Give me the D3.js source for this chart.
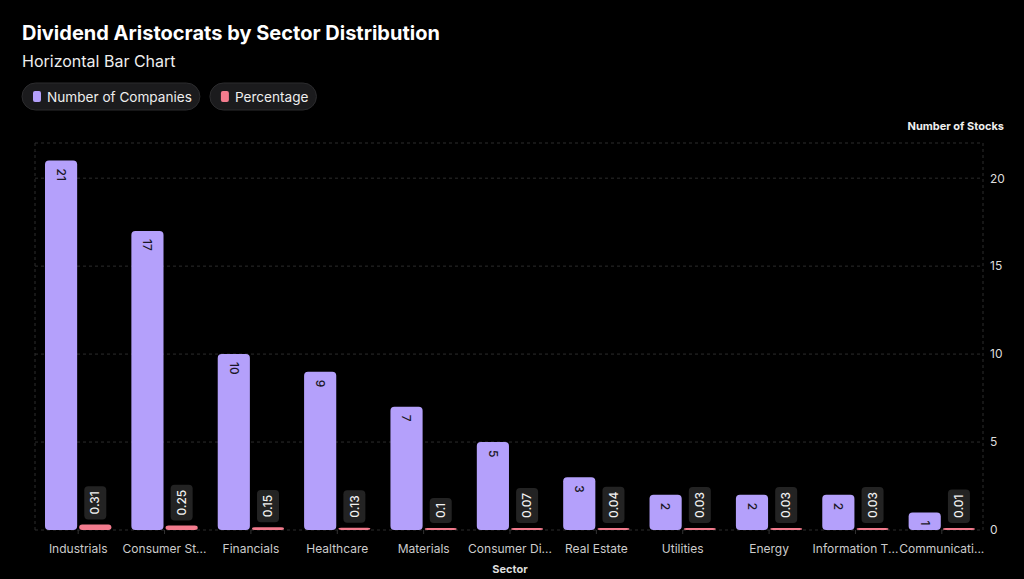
<!DOCTYPE html>
<html>
<head>
<meta charset="utf-8">
<script src="https://cdn.jsdelivr.net/npm/d3@7"></script>
<style>
  html, body { margin: 0; padding: 0; background: #000; }
  svg { display: block; font-family: Inter, "Noto Sans", sans-serif; }
</style>
</head>
<body>
<div id="chart"></div>
<script>
// data
var sectors = ["Industrials", "Consumer Staples", "Financials", "Healthcare", "Materials",
  "Consumer Discretionary", "Real Estate", "Utilities", "Energy", "Information Technology",
  "Communication Services"];
var companies = [21, 17, 10, 9, 7, 5, 3, 2, 2, 2, 1];
var percentage = [0.31, 0.25, 0.15, 0.13, 0.1, 0.07, 0.04, 0.03, 0.03, 0.03, 0.01];
var yTicks = [0, 5, 10, 15, 20];

var width = 1024, height = 579;
var plotLeft = 35, plotRight = 983, plotTop = 143, plotBottom = 530;
var purple = "#b4a0fb", pink = "#f27b8d";

var svg = d3.select("#chart").append("svg")
  .attr("width", width)
  .attr("height", height);

// title + subtitle
svg.append("text").attr("x", 22).attr("y", 40)
  .attr("fill", "#fff").attr("font-size", 20).attr("font-weight", 700)
  .text("Dividend Aristocrats by Sector Distribution");
svg.append("text").attr("x", 22).attr("y", 67)
  .attr("fill", "#eee").attr("font-size", 16)
  .text("Horizontal Bar Chart");

// legend pills
var legend = [{name: "Number of Companies", color: purple}, {name: "Percentage", color: pink}];
var lx = 22;
legend.forEach(function(l){
  var g = svg.append("g").attr("transform", "translate(" + lx + ",83)");
  var rect = g.append("rect").attr("height", 27).attr("rx", 13.5)
    .attr("fill", "#1b1b1d").attr("stroke", "#2c2c2e");
  g.append("rect").attr("x", 11).attr("y", 8).attr("width", 8).attr("height", 11)
    .attr("rx", 2).attr("fill", l.color);
  var t = g.append("text").attr("x", 25).attr("y", 18.5)
    .attr("fill", "#eee").attr("font-size", 13.6).text(l.name);
  var w = t.node().getComputedTextLength() + 33;
  rect.attr("width", w);
  lx += w + 10;
});

// scales
var x0 = d3.scaleBand().domain(sectors).range([plotLeft, plotRight + 2]);
var x1 = d3.scaleBand().domain(["n", "p"])
  .range([10, x0.bandwidth() - 10]).paddingInner(0.06);
var y = d3.scaleLinear().domain([0, 22]).range([plotBottom, plotTop]);

// grid and frame
var grid = svg.append("g").attr("stroke", "#2c2c2c").attr("stroke-dasharray", "3,3");
yTicks.concat([22]).forEach(function(v){
  grid.append("line").attr("x1", plotLeft).attr("x2", plotRight)
    .attr("y1", y(v)).attr("y2", y(v));
});
grid.append("line").attr("x1", plotLeft).attr("x2", plotLeft).attr("y1", plotTop).attr("y2", plotBottom);
grid.append("line").attr("x1", plotRight).attr("x2", plotRight).attr("y1", plotTop).attr("y2", plotBottom);

// right axis
var yAxis = svg.append("g").attr("transform", "translate(" + plotRight + ",0)")
  .call(d3.axisRight(y).tickValues(yTicks).tickSize(0).tickPadding(7));
yAxis.select(".domain").remove();
yAxis.selectAll("text").attr("fill", "#ddd").attr("font-size", 12)
  .attr("font-family", "Inter, sans-serif");
svg.append("text").attr("x", 1004).attr("y", 130).attr("text-anchor", "end")
  .attr("fill", "#eee").attr("font-size", 11).attr("font-weight", 700)
  .text("Number of Stocks");

// bottom axis
var maxLabel = 87;
var xAxis = svg.append("g").attr("transform", "translate(0," + plotBottom + ")")
  .call(d3.axisBottom(x0).tickSize(4).tickPadding(10));
xAxis.select(".domain").remove();
xAxis.selectAll("line").attr("stroke", "#333");
xAxis.selectAll("text").attr("fill", "#ccc").attr("font-size", 12)
  .attr("font-family", "Inter, sans-serif")
  .each(function(d){
    var el = d3.select(this), s = d;
    if (this.getComputedTextLength() > maxLabel) {
      while (s.length > 1) {
        s = s.slice(0, -1);
        el.text(s.trim() + "...");
        if (this.getComputedTextLength() <= maxLabel) break;
      }
    }
  });
svg.append("text").attr("x", x0(sectors[5]) + x0.bandwidth() / 2).attr("y", 573)
  .attr("text-anchor", "middle").attr("fill", "#ddd")
  .attr("font-size", 11).attr("font-weight", 700).text("Sector");

// bars
var rows = sectors.map(function(s, i){ return {s: s, n: companies[i], p: percentage[i]}; });
var groups = svg.selectAll("g.sector").data(rows).enter().append("g")
  .attr("class", "sector")
  .attr("transform", function(d){ return "translate(" + x0(d.s) + ",0)"; });

groups.append("rect")
  .attr("x", x1("n")).attr("width", x1.bandwidth())
  .attr("y", function(d){ return y(d.n); })
  .attr("height", function(d){ return plotBottom - y(d.n); })
  .attr("rx", 4).attr("fill", purple);

groups.append("text")
  .attr("transform", function(d){
    return "translate(" + (x1("n") + x1.bandwidth() / 2) + "," + (y(d.n) + 8) + ") rotate(90)";
  })
  .attr("dy", "0.35em").attr("fill", "#1a1726").attr("font-size", 12).attr("font-weight", 500)
  .text(function(d){ return d.n; });

groups.append("rect")
  .attr("x", x1("p")).attr("width", x1.bandwidth())
  .attr("y", function(d){ return Math.min(y(d.p), plotBottom - 2); })
  .attr("height", function(d){ return Math.max(plotBottom - y(d.p), 2); })
  .attr("rx", 3).attr("fill", pink);

groups.each(function(d){
  var g = d3.select(this);
  var cx = x1("p") + x1.bandwidth() / 2;
  var base = Math.min(y(d.p), plotBottom - 2) - 5;
  var box = g.append("rect").attr("fill", "#232323").attr("rx", 4);
  var t = g.append("text").attr("fill", "#f2f2f2").attr("font-size", 12).attr("font-weight", 500)
    .attr("text-anchor", "start").attr("dy", "0.35em").text(d.p);
  var len = t.node().getComputedTextLength();
  t.attr("transform", "translate(" + cx + "," + (base - 5) + ") rotate(-90)");
  box.attr("x", cx - 11).attr("width", 22)
    .attr("y", base - len - 10).attr("height", len + 10);
});
</script>
</body>
</html>
